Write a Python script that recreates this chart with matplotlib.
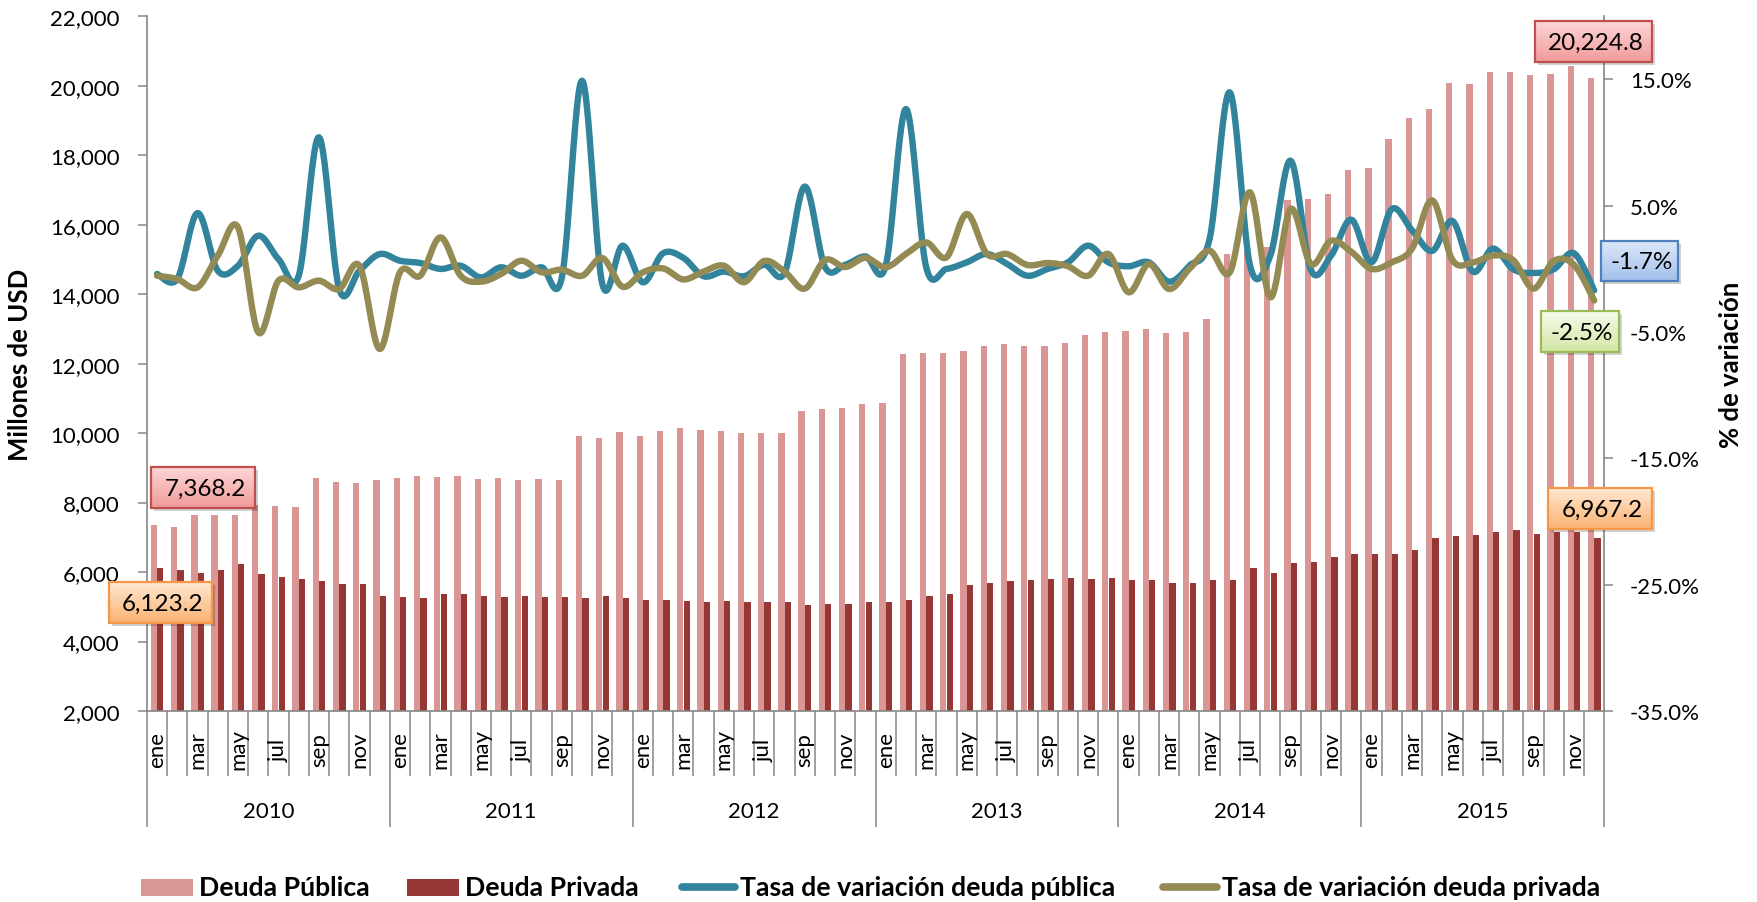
import numpy as np
import matplotlib
matplotlib.use("Agg")
import matplotlib.pyplot as plt
from matplotlib.patches import Rectangle
from matplotlib.lines import Line2D
import matplotlib.transforms as mtransforms
from matplotlib.ticker import FuncFormatter, FixedLocator

# ---------------- data ----------------
years = ["2010", "2011", "2012", "2013", "2014", "2015"]
month_names = ["ene", "feb", "mar", "abr", "may", "jun",
               "jul", "ago", "sep", "oct", "nov", "dic"]

deuda_publica = [
    7368.2, 7298, 7642, 7629, 7642, 7920, 7894, 7868, 8702, 8583, 8556, 8649,
    8715, 8755, 8742, 8768, 8689, 8715, 8649, 8675, 8636, 9921, 9854, 10040,
    9921, 10053, 10159, 10079, 10066, 10000, 10013, 10000, 10636, 10702, 10728, 10848,
    10874, 12265, 12310, 12318, 12358, 12517, 12570, 12503, 12517, 12596, 12834, 12901,
    12940, 13007, 12887, 12914, 13285, 15145, 15250, 15370, 16705, 16735, 16895, 17570,
    17635, 18480, 19073, 19325, 20093, 20040, 20397, 20384, 20318, 20331, 20570, 20224.8,
]
deuda_privada = [
    6123.2, 6053, 5974, 6053, 6238, 5934, 5868, 5801, 5735, 5656, 5656, 5311,
    5285, 5258, 5377, 5364, 5325, 5285, 5311, 5285, 5285, 5258, 5311, 5245,
    5205, 5205, 5166, 5152, 5179, 5126, 5152, 5126, 5046, 5073, 5086, 5139,
    5152, 5192, 5315, 5377, 5616, 5682, 5748, 5775, 5801, 5815, 5788, 5841,
    5762, 5775, 5682, 5682, 5775, 5775, 6106, 5987, 6265, 6291, 6424, 6517,
    6517, 6530, 6636, 6993, 7033, 7073, 7160, 7217, 7102, 7140, 7140, 6967.2,
]
tasa_publica = [
    -0.40, -0.80, 4.42, -0.14, 0.25, 2.63, 0.78, -0.54, 10.42, -1.59, -0.14, 1.18,
    0.65, 0.47, 0.00, 0.25, -0.67, 0.13, -0.54, 0.13, -0.67, 14.90, -1.20, 1.84,
    -1.06, 1.24, 0.88, -0.58, -0.21, -0.58, 0.33, -0.32, 6.52, 0.15, 0.33, 0.99,
    0.25, 12.66, 0.13, 0.00, 0.52, 1.18, 0.39, -0.54, 0.00, 0.52, 1.84, 0.52,
    0.21, 0.52, -1.01, 0.25, 2.37, 13.98, 0.25, 1.05, 8.57, -0.06, 1.05, 3.90,
    0.52, 4.74, 3.06, 1.43, 3.79, -0.21, 1.61, -0.03, -0.32, -0.03, 1.24, -1.70,
]
tasa_privada = [
    -0.54, -0.80, -1.46, 1.05, 3.29, -5.02, -0.93, -1.46, -0.93, -1.59, 0.25, -6.34,
    -0.27, -0.54, 2.50, -0.54, -1.01, -0.40, 0.65, -0.27, -0.06, -0.54, 0.86, -1.41,
    -0.27, 0.04, -0.83, -0.21, 0.26, -1.05, 0.63, -0.21, -1.56, 0.70, 0.15, 0.88,
    0.13, 1.18, 2.10, 0.92, 4.35, 1.18, 1.18, 0.31, 0.47, 0.21, -0.54, 1.18,
    -1.85, 0.39, -1.59, 0.00, 1.44, -0.27, 6.06, -2.25, 4.74, 0.39, 2.23, 1.36,
    0.00, 0.52, 1.61, 5.43, 0.70, 0.51, 1.06, 0.70, -1.56, 0.63, 0.33, -2.50,
]
legend_labels = ["Deuda Pública", "Deuda Privada",
                 "Tasa de variación deuda pública", "Tasa de variación deuda privada"]

# ---------------- style ----------------
W, H = 1758, 903
C_PUB = "#D99694"
C_PRI = "#953735"
C_LPUB = "#31849B"
C_LPRI = "#948A54"
GRAY = "#868686"
FONT = ["Lato", "DejaVu Sans"]
plt.rcParams["font.family"] = FONT

fig = plt.figure(figsize=(W / 100, H / 100), dpi=100)
L, R, T, B = 146.9, 1604.3, 17.3, 712.0
ax = fig.add_axes([L / W, 1 - B / H, (R - L) / W, (B - T) / H])
ax2 = ax.twinx()

n = len(deuda_publica)
x = np.arange(n)
bw = 0.31
ax.bar(x - 0.155, deuda_publica, width=bw, color=C_PUB, zorder=2, linewidth=0)
ax.bar(x + 0.165, deuda_privada, width=bw, color=C_PRI, zorder=2, linewidth=0)
ax.set_xlim(-0.5, n - 0.5)
ax.set_ylim(2000, 22000)
ax.yaxis.set_major_locator(FixedLocator(np.arange(2000, 22001, 2000)))
ax.yaxis.set_major_formatter(FuncFormatter(lambda v, p: f"{v:,.0f}"))


def smooth(xs, ys, k=24):
    xs = np.asarray(xs, float)
    ys = np.asarray(ys, float)
    P = np.column_stack([xs, ys])
    Pe = np.vstack([P[0], P, P[-1]])
    out = [P[0]]
    t = np.linspace(0, 1, k + 1)[1:]
    for i in range(len(P) - 1):
        p0, p1, p2, p3 = Pe[i], Pe[i + 1], Pe[i + 2], Pe[i + 3]
        c1 = p1 + (p2 - p0) / 6.0
        c2 = p2 - (p3 - p1) / 6.0
        for tt in t:
            b = ((1 - tt) ** 3) * p1 + 3 * ((1 - tt) ** 2) * tt * c1 + 3 * (1 - tt) * tt ** 2 * c2 + tt ** 3 * p2
            out.append(b)
    out = np.array(out)
    return out[:, 0], out[:, 1]


sx, sy = smooth(x, tasa_publica)
ax2.plot(sx, sy, color=C_LPUB, lw=4.6, solid_capstyle="round", solid_joinstyle="round", zorder=3)
sx, sy = smooth(x, tasa_privada)
ax2.plot(sx, sy, color=C_LPRI, lw=4.6, solid_capstyle="round", solid_joinstyle="round", zorder=4)
ax2.set_ylim(-35, 20)
ax2.yaxis.set_major_locator(FixedLocator(np.arange(-35, 16, 10)))
ax2.yaxis.set_major_formatter(FuncFormatter(lambda v, p: f"{v:.1f}%"))

for a in (ax, ax2):
    for s in a.spines.values():
        s.set_visible(False)
ax.spines["left"].set_visible(True)
ax.spines["left"].set_color(GRAY)
ax.spines["left"].set_linewidth(1.2)
ax.spines["bottom"].set_visible(True)
ax.spines["bottom"].set_color(GRAY)
ax.spines["bottom"].set_linewidth(1.2)
ax2.spines["right"].set_visible(True)
ax2.spines["right"].set_color(GRAY)
ax2.spines["right"].set_linewidth(1.2)

ax.tick_params(axis="y", direction="out", length=6.3, width=1.1, color=GRAY,
               labelsize=16, pad=13.5, labelcolor="black")
ax2.tick_params(axis="y", direction="out", length=6.3, width=1.1, color=GRAY,
                labelsize=16, pad=12, labelcolor="black")
ax.set_xticks([])

# category axis decorations
trans = mtransforms.blended_transform_factory(ax.transData, ax.transAxes)
ah = B - T
y_month = -(777 - B) / ah
y_year = -(828 - B) / ah
for b in range(0, n + 1):
    xb = b - 0.5
    yend = y_year if b % 12 == 0 else y_month
    ax.plot([xb, xb], [0, yend], transform=trans, color=GRAY, lw=1.1,
            clip_on=False, zorder=1, solid_capstyle="butt")
for i in range(n):
    if i % 2 == 0:
        ax.text(i, -(750 - B) / ah, month_names[i % 12], transform=trans,
                rotation=90, ha="center", va="center", fontsize=16)
for k, yr in enumerate(years):
    ax.text(k * 12 + 5.5, -(812 - B) / ah, yr, transform=trans,
            ha="center", va="center", fontsize=16)

# overlay for labels, boxes, legend
ov = fig.add_axes([0, 0, 1, 1], zorder=10)
ov.set_xlim(0, W)
ov.set_ylim(H, 0)
ov.axis("off")
ov.patch.set_alpha(0)

ov.text(20, 365, "Millones de USD", rotation=90, ha="center", va="center",
        fontsize=18.5, fontweight="bold")
ov.text(1731, 365, "% de variación", rotation=90, ha="center", va="center",
        fontsize=18.5, fontweight="bold")


def hex2rgb(h):
    h = h.lstrip("#")
    return np.array([int(h[i:i + 2], 16) / 255 for i in (0, 2, 4)])


def box(x0, y0, x1, y1, text, ctop, cbot, edge):
    ov.add_patch(Rectangle((x0 + 3, y0 + 3), x1 - x0, y1 - y0, facecolor="#000000",
                           alpha=0.18, edgecolor="none", zorder=1))
    t = np.linspace(0, 1, 64)[:, None, None]
    grad = hex2rgb(ctop)[None, None, :] * (1 - t) + hex2rgb(cbot)[None, None, :] * t
    ov.imshow(grad, extent=(x0, x1, y1, y0), origin="upper", aspect="auto",
              zorder=2, interpolation="bilinear")
    ov.add_patch(Rectangle((x0, y0), x1 - x0, y1 - y0, facecolor="none",
                           edgecolor=edge, lw=1.6, zorder=3))
    ov.text((x0 + x1) / 2 + 2, (y0 + y1) / 2 + 1, text, ha="center", va="center",
            fontsize=17.5, zorder=4, color="black")


PINK = ("#FCD6D6", "#F29A9A", "#C0504D")
ORNG = ("#FFE8D2", "#FBB272", "#F79646")
BLUE = ("#DCE8F8", "#A3C0EC", "#4F81BD")
GREN = ("#F6FAEA", "#D2E7A4", "#9BBB59")

box(151, 468, 255, 509, f"{deuda_publica[0]:,.1f}", *PINK)
box(109, 583, 212, 624, f"{deuda_privada[0]:,.1f}", *ORNG)
box(1535, 22, 1652, 63, f"{deuda_publica[-1]:,.1f}", *PINK)
box(1548, 489, 1652, 530, f"{deuda_privada[-1]:,.1f}", *ORNG)
box(1601, 242, 1678, 282, f"{tasa_publica[-1]:.1f}%", *BLUE)
box(1541, 312, 1619, 353, f"{tasa_privada[-1]:.1f}%", *GREN)
ov.set_xlim(0, W)
ov.set_ylim(H, 0)

# legend
ly = 888
LFS = 19.2
ov.add_patch(Rectangle((141, 880), 52, 17, facecolor=C_PUB, edgecolor="none"))
ov.text(199, ly, legend_labels[0], ha="left", va="center", fontsize=LFS, fontweight="bold")
ov.add_patch(Rectangle((407, 880), 52, 17, facecolor=C_PRI, edgecolor="none"))
ov.text(465, ly, legend_labels[1], ha="left", va="center", fontsize=LFS, fontweight="bold")
ov.add_line(Line2D([682, 735], [ly, ly], color=C_LPUB, lw=5.5, solid_capstyle="round"))
ov.text(740, ly, legend_labels[2], ha="left", va="center", fontsize=LFS, fontweight="bold")
ov.add_line(Line2D([1163, 1217], [ly, ly], color=C_LPRI, lw=5.5, solid_capstyle="round"))
ov.text(1222, ly, legend_labels[3], ha="left", va="center", fontsize=LFS, fontweight="bold")

fig.savefig("out.png", dpi=100)
